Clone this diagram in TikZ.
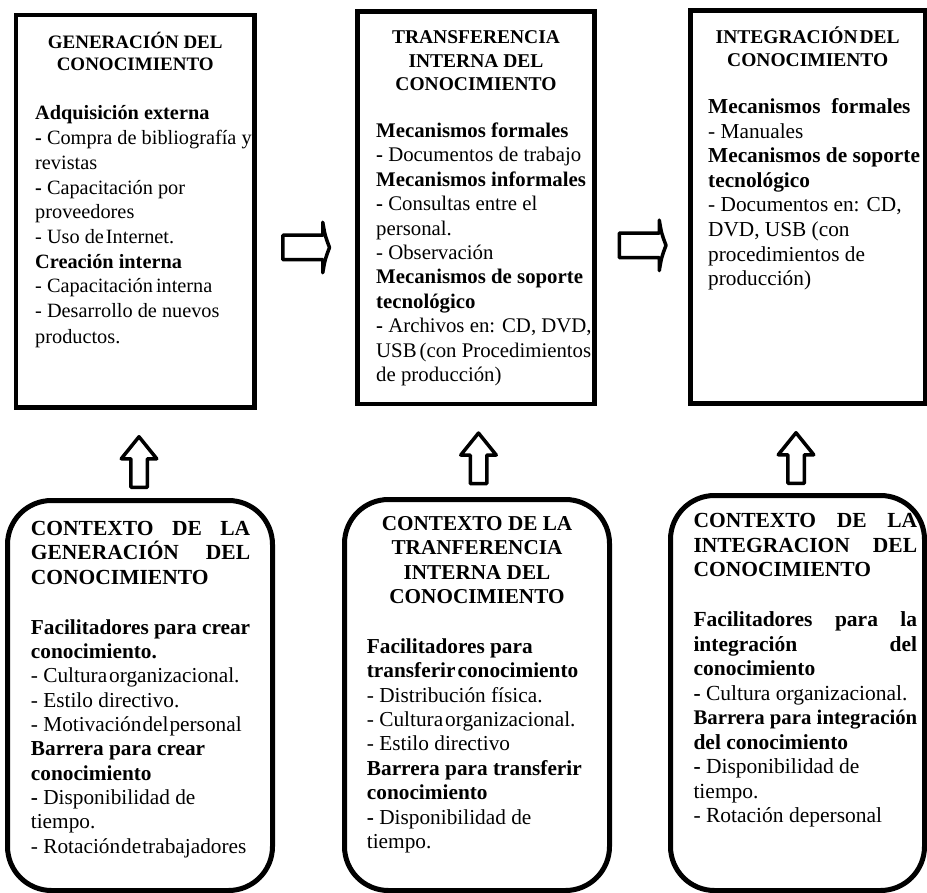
\documentclass[tikz,border=0pt]{standalone}
\usepackage{fontspec}
\setmainfont{Liberation Serif}
\usetikzlibrary{calc}
\begin{document}
\begin{tikzpicture}[x=1pt,y=-1pt,
  sqbox/.style={draw, line width=4.5pt, inner sep=0pt, minimum width=#1},
  rdbox/.style={draw, line width=5pt, inner sep=0pt, rounded corners=44pt, minimum width=#1},
  ttl/.style={anchor=base, inner sep=0pt},
  txt/.style={anchor=base west, inner sep=0pt},
  arrline/.style={draw, line width=3.5pt, line join=round, fill=white},
  rarrow/.pic={\path[arrline] (-23.25,-12.25) -- (16.75,-12.25) -- (16.75,-25.25) .. controls (19,-12) .. (23.5,0) .. controls (19,12) .. (16.75,25.25) -- (16.75,12.25) -- (-23.25,12.25) -- cycle;},
  uarrow/.pic={\path[arrline] (-8.25,25.25) -- (-8.25,-3.25) -- (-17.75,-3.25) -- (0,-25.25) -- (17.75,-3.25) -- (8.25,-3.25) -- (8.25,25.25) -- cycle;}
]
\useasboundingbox (0,0) rectangle (927,893);
\fill[white] (0,0) rectangle (927,893);

% boxes
\node[sqbox=238.5pt, minimum height=392.5pt] (g1) at (135.25,211.25) {};
\node[sqbox=237pt, minimum height=392.5pt] (g2) at (476,207.75) {};
\node[sqbox=234.5pt, minimum height=393pt] (g3) at (807.75,207) {};
\node[rdbox=265pt, minimum height=390pt] (c1) at (140,695.5) {};
\node[rdbox=265pt, minimum height=391pt] (c2) at (477,695) {};
\node[rdbox=254pt, minimum height=395pt] (c3) at (797.5,693) {};

% arrows
\coordinate (a12) at ($(g1.east)!0.5!(g2.west)+(0,38)$);
\coordinate (a23) at ($(g2.east)!0.5!(g3.west)+(0,38)$);
\coordinate (u1) at (139,462);
\coordinate (u2) at (478.5,458.3);
\coordinate (u3) at (796,458);
\pic at (a12) {rarrow};
\pic at (a23) {rarrow};
\pic at (u1) {uarrow};
\pic at (u2) {uarrow};
\pic at (u3) {uarrow};

% box 1
\node[ttl] (g1t) at (135.25,48.5) {\parbox[t]{230pt}{\centering\bfseries\fontsize{19}{22.5}\selectfont
GENERACIÓN DEL\\CONOCIMIENTO}};
\node[txt] (g1b) at (35,120) {\parbox[t]{300pt}{\raggedright\fontsize{20.3}{24.7}\selectfont
\textbf{Adquisición externa}\\
\textbf{-} Compra de bibliografía y\\
revistas\\
\textbf{-} Capacitación por\\
proveedores\\
- Uso de\hspace{2pt}Internet.\\
\textbf{Creación interna}\\
- Capacitación\hspace{3pt}interna\\
- Desarrollo de nuevos\\[1.5pt]
productos.}};

% box 2
\node[ttl] (g2t) at (476,43.5) {\parbox[t]{230pt}{\centering\bfseries\fontsize{19.5}{23.6}\selectfont
TRANSFERENCIA\\INTERNA DEL\\CONOCIMIENTO}};
\node[txt] (g2b) at (376,137.5) {\parbox[t]{300pt}{\raggedright\fontsize{20.8}{24.4}\selectfont
\textbf{Mecanismos formales}\\
\textbf{-} Documentos de trabajo\\
\textbf{Mecanismos informales}\\
\textbf{-} Consultas entre el\\
personal.\\
- Observación\\
\textbf{Mecanismos de soporte}\\
\textbf{tecnológico}\\
\textbf{-} Archivos en: CD, DVD,\\
USB\hspace{3pt}(con Procedimientos\\
de producción)}};

% box 3
\node[ttl] (g3t) at (807.75,43.5) {\parbox[t]{230pt}{\centering\bfseries\fontsize{19.5}{23.5}\selectfont
INTEGRACIÓN\hspace{2pt}DEL\\CONOCIMIENTO}};
\node[txt] (g3b) at (708,113.5) {\parbox[t]{300pt}{\raggedright\fontsize{21.3}{24.6}\selectfont
\textbf{Mecanismos\ \ formales}\\
- Manuales\\
\textbf{Mecanismos de soporte}\\
\textbf{tecnológico}\\
- Documentos en: CD,\\
DVD, USB (con\\
procedimientos de\\
producción)}};

% box 4
\node[txt] (c1t) at (30.7,535) {\parbox[t]{219.3pt}{\raggedright\bfseries\fontsize{21.5}{24.6}\selectfont
\makebox[219.3pt][s]{CONTEXTO DE LA}\\
\makebox[219.3pt][s]{GENERACIÓN DEL}\\
CONOCIMIENTO}};
\node[txt] (c1b) at (30.7,634.3) {\parbox[t]{300pt}{\raggedright\fontsize{21.3}{24.3}\selectfont
\textbf{Facilitadores para crear}\\
\textbf{conocimiento.}\\
- Cultura\hspace{2pt}organizacional.\\
- Estilo directivo.\\
- Motivación\hspace{1pt}del\hspace{1pt}personal\\
\textbf{Barrera para crear}\\
\textbf{conocimiento}\\
\textbf{-} Disponibilidad de\\
tiempo.\\
- Rotación\hspace{1pt}de\hspace{1pt}trabajadores}};

% box 5
\node[ttl] (c2t) at (477,530) {\parbox[t]{250pt}{\centering\bfseries\fontsize{21.2}{24.6}\selectfont
CONTEXTO DE LA\\TRANFERENCIA\\INTERNA DEL\\CONOCIMIENTO}};
\node[txt] (c2b) at (366.7,653.3) {\parbox[t]{300pt}{\raggedright\fontsize{21.3}{24.4}\selectfont
\textbf{Facilitadores para}\\
\textbf{transferir\hspace{2pt}conocimiento}\\
- Distribución física.\\
- Cultura\hspace{2pt}organizacional.\\
- Estilo directivo\\
\textbf{Barrera para transferir}\\
\textbf{conocimiento}\\
\textbf{-} Disponibilidad de\\
tiempo.}};

% box 6
\node[txt] (c3t) at (693.3,527.3) {\parbox[t]{223.7pt}{\raggedright\bfseries\fontsize{21.5}{24.7}\selectfont
\makebox[223.7pt][s]{CONTEXTO DE LA}\\
\makebox[223.7pt][s]{INTEGRACION DEL}\\
CONOCIMIENTO}};
\node[txt] (c3b) at (693.3,626.7) {\parbox[t]{300pt}{\raggedright\fontsize{21.5}{24.5}\selectfont
\makebox[223.7pt][s]{\bfseries Facilitadores para la}\\
\makebox[223.7pt][s]{\bfseries integración del}\\
\textbf{conocimiento}\\
\textbf{-} Cultura organizacional.\\
{\fontsize{20.8}{24.5}\selectfont\textbf{Barrera para integración}}\\
\textbf{del conocimiento}\\
\textbf{-} Disponibilidad de\\
tiempo.\\
- Rotación depersonal}};
\end{tikzpicture}
\end{document}
